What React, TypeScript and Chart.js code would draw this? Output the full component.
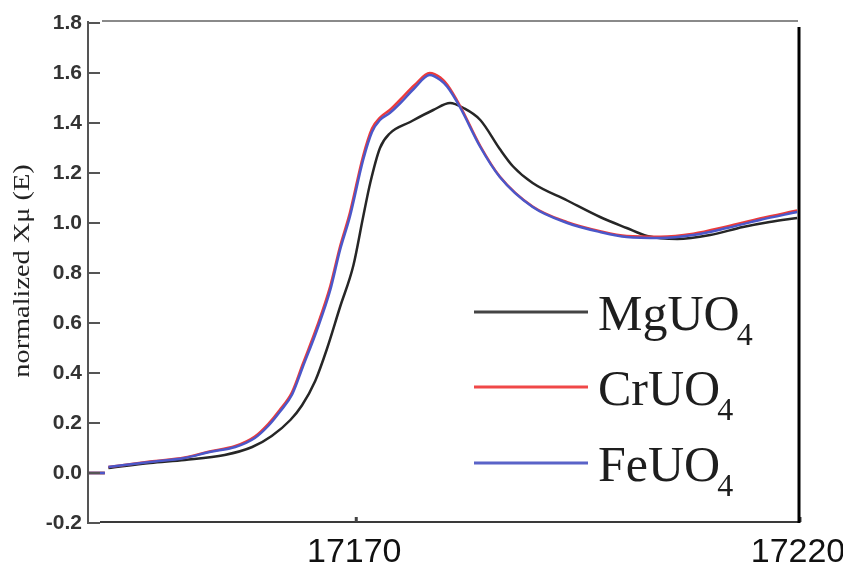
import React, { useEffect, useRef } from "react";
import { Chart, registerables } from "chart.js";

Chart.register(...registerables);

// Photon energy (eV) and normalized absorption for each uranate
const energyMg = [
  17142.3, 17147.0, 17150.9, 17155.4, 17158.5, 17160.7, 17162.8, 17164.1, 17165.6, 17166.9,
  17168.4, 17169.9, 17171.0, 17171.8, 17172.9, 17174.0, 17176.3, 17178.9, 17180.8, 17182.3,
  17184.2, 17186.4, 17187.9, 17190.1, 17194.0, 17197.7, 17200.7, 17203.0, 17206.4, 17210.1,
  17213.8, 17216.8, 17219.9,
];
const mgUO4 = [
  0.02, 0.04, 0.052, 0.072, 0.104, 0.148, 0.212, 0.27, 0.368, 0.494,
  0.664, 0.83, 1.024, 1.16, 1.3, 1.358, 1.404, 1.452, 1.48, 1.46,
  1.412, 1.296, 1.226, 1.16, 1.09, 1.024, 0.98, 0.948, 0.936, 0.952,
  0.984, 1.004, 1.02,
];

const energyCr = [
  17142.3, 17147.0, 17150.9, 17153.7, 17156.6, 17158.8, 17160.3, 17161.6, 17163.0, 17164.2,
  17165.8, 17167.3, 17168.4, 17169.5, 17171.0, 17172.0, 17172.9, 17174.0, 17175.2, 17176.8,
  17178.5, 17179.7, 17180.5, 17181.9, 17184.2, 17186.4, 17190.1, 17194.0, 17197.7, 17200.7,
  17204.5, 17208.2, 17212.0, 17215.7, 17219.9,
];
const crUO4 = [
  0.024, 0.046, 0.062, 0.086, 0.108, 0.146, 0.196, 0.252, 0.324, 0.436,
  0.586, 0.748, 0.906, 1.04, 1.268, 1.378, 1.422, 1.452, 1.494, 1.552,
  1.6, 1.582, 1.552, 1.47, 1.308, 1.186, 1.066, 1.003, 0.967, 0.948,
  0.945, 0.957, 0.986, 1.018, 1.05,
];

const energyFe = [
  17142.3, 17147.0, 17150.9, 17153.7, 17156.6, 17158.8, 17160.3, 17161.6, 17163.0, 17164.2,
  17165.8, 17167.3, 17168.4, 17169.5, 17171.0, 17172.0, 17172.9, 17174.0, 17175.2, 17176.8,
  17178.5, 17179.7, 17180.5, 17181.9, 17184.2, 17186.4, 17190.1, 17194.0, 17197.7, 17200.7,
  17204.5, 17208.2, 17212.0, 17215.7, 17219.9,
];
const feUO4 = [
  0.024, 0.044, 0.06, 0.084, 0.104, 0.14, 0.188, 0.244, 0.314, 0.424,
  0.572, 0.732, 0.892, 1.024, 1.252, 1.364, 1.412, 1.44, 1.48, 1.54,
  1.592, 1.572, 1.544, 1.464, 1.304, 1.184, 1.064, 1.0, 0.964, 0.944,
  0.94, 0.952, 0.98, 1.012, 1.044,
];

// Short pre-edge baseline segment at the left edge
const baselineEnergy = [17140, 17141.9];
const baselineValue = [0, 0];

const xMin = 17140;
const xMax = 17220;
const xTickValues = [17170, 17220];
const yMin = -0.2;
const yMax = 1.8;
const yStep = 0.2;

const legendMain = ["MgUO", "CrUO", "FeUO"];
const legendSub = "4";
const lineColors = ["#262626", "#ec3b3b", "#4b57c9"];
const legendColors = ["#444444", "#f04848", "#5a63c8"];

const toPoints = (energy: number[], values: number[]) => [
  ...baselineEnergy.map((e, i) => ({ x: e, y: baselineValue[i] as number | null })),
  { x: (baselineEnergy[baselineEnergy.length - 1] + energy[0]) / 2, y: null },
  ...energy.map((e, i) => ({ x: e, y: values[i] as number | null })),
];

const framePlugin = {
  id: "frameAndLegend",
  afterDatasetsDraw(chart: any) {
    const { ctx, chartArea, scales } = chart;
    const { left, right, top, bottom } = chartArea;
    const ys = scales.y;
    const xs = scales.x;
    ctx.save();
    ctx.lineCap = "butt";

    // left axis with inward ticks
    ctx.strokeStyle = "#555555";
    ctx.lineWidth = 2;
    ctx.beginPath();
    ctx.moveTo(left, ys.getPixelForValue(yMax) - 2);
    ctx.lineTo(left, ys.getPixelForValue(yMin) + 1);
    ctx.stroke();
    for (let v = yMin; v <= yMax + 1e-9; v += yStep) {
      const py = ys.getPixelForValue(v);
      ctx.beginPath();
      ctx.moveTo(left, py);
      ctx.lineTo(left + 12, py);
      ctx.stroke();
    }

    // top border
    ctx.strokeStyle = "#8a8a8a";
    ctx.beginPath();
    ctx.moveTo(left + 14, top - 2);
    ctx.lineTo(right, top - 2);
    ctx.stroke();

    // bottom axis
    ctx.strokeStyle = "#3a3a3a";
    ctx.beginPath();
    ctx.moveTo(left + 12, bottom - 1);
    ctx.lineTo(right, bottom - 1);
    ctx.stroke();

    // x ticks
    ctx.lineWidth = 3;
    ctx.strokeStyle = "#444444";
    for (const v of xTickValues) {
      const px = xs.getPixelForValue(v) + 2;
      ctx.beginPath();
      ctx.moveTo(px, bottom - 6);
      ctx.lineTo(px, bottom - 1);
      ctx.stroke();
    }

    // right border
    ctx.strokeStyle = "#000000";
    ctx.lineWidth = 3;
    ctx.beginPath();
    ctx.moveTo(right + 1, top + 4);
    ctx.lineTo(right + 1, bottom);
    ctx.stroke();

    // y-axis title
    ctx.save();
    ctx.translate(29, (top + bottom) / 2 - 2);
    ctx.rotate(-Math.PI / 2);
    ctx.scale(1.18, 1);
    ctx.fillStyle = "#222222";
    ctx.font = '24px "Liberation Serif"';
    ctx.textAlign = "center";
    ctx.textBaseline = "alphabetic";
    ctx.fillText("normalized X\u03bc (E)", 0, 0);
    ctx.restore();

    // legend
    const rowY = [top + 289, top + 364, top + 440];
    const lineX0 = left + 386;
    const lineX1 = left + 500;
    const textX = left + 510;
    legendMain.forEach((name, i) => {
      const y = rowY[i];
      ctx.strokeStyle = legendColors[i];
      ctx.lineWidth = 3;
      ctx.beginPath();
      ctx.moveTo(lineX0, y);
      ctx.lineTo(lineX1, y);
      ctx.stroke();
      ctx.fillStyle = "#1e1e1e";
      ctx.textAlign = "left";
      ctx.textBaseline = "alphabetic";
      ctx.font = '50px "Liberation Serif"';
      ctx.fillText(name, textX, y + 18);
      const w = ctx.measureText(name).width;
      ctx.font = '32px "Liberation Serif"';
      ctx.fillText(legendSub, textX + w - 3, y + 33);
    });

    ctx.restore();
  },
};

export default function App() {
  const canvasRef = useRef<HTMLCanvasElement | null>(null);

  useEffect(() => {
    const canvas = canvasRef.current;
    if (!canvas) return;
    const series = [
      { label: "MgUO\u2084", points: toPoints(energyMg, mgUO4), order: 2 },
      { label: "CrUO\u2084", points: toPoints(energyCr, crUO4), order: 1 },
      { label: "FeUO\u2084", points: toPoints(energyFe, feUO4), order: 0 },
    ];
    const chart = new Chart(canvas, {
      type: "line",
      data: {
        datasets: series.map((s, i) => ({
          label: s.label,
          data: s.points,
          borderColor: lineColors[i],
          backgroundColor: lineColors[i],
          borderWidth: 2.5,
          pointRadius: 0,
          cubicInterpolationMode: "monotone",
          spanGaps: false,
          order: s.order,
        })),
      },
      options: {
        responsive: false,
        animation: false,
        layout: { padding: { top: 23, right: 45, left: 0, bottom: 0 } },
        plugins: {
          legend: { display: false },
          tooltip: { enabled: false },
        },
        scales: {
          x: {
            type: "linear",
            min: xMin,
            max: xMax,
            grid: { display: false },
            border: { display: false },
            afterBuildTicks: (scale: any) => {
              scale.ticks = xTickValues.map((v) => ({ value: v }));
            },
            afterFit: (scale: any) => {
              scale.height = 43;
              scale.paddingLeft = 0;
              scale.paddingRight = 0;
            },
            ticks: {
              autoSkip: false,
              maxRotation: 0,
              padding: 1,
              color: "#111111",
              font: { family: '"Liberation Sans"', size: 34 },
              callback: (v: any) => String(v),
            },
          },
          y: {
            type: "linear",
            min: yMin,
            max: yMax,
            grid: { display: false },
            border: { display: false },
            afterFit: (scale: any) => {
              scale.width = 88;
              scale.paddingTop = 0;
              scale.paddingBottom = 0;
            },
            ticks: {
              stepSize: yStep,
              padding: -2,
              color: "#333333",
              font: { family: '"Liberation Sans"', size: 21, weight: "bold" },
              callback: (v: any) => Number(v).toFixed(1),
            },
          },
        },
      },
      plugins: [framePlugin],
    });
    return () => chart.destroy();
  }, []);

  return (
    <div style={{ position: "absolute", left: 0, top: 0, width: 843, height: 566, background: "#ffffff" }}>
      <canvas ref={canvasRef} width={843} height={566} style={{ display: "block" }} />
    </div>
  );
}
